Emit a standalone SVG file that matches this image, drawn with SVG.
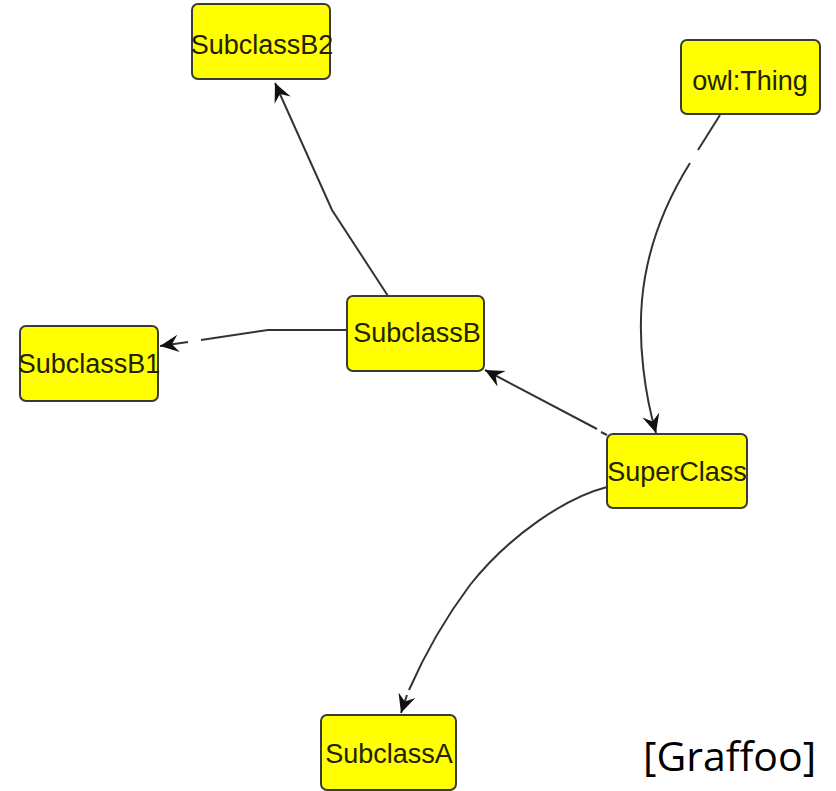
<svg xmlns="http://www.w3.org/2000/svg" width="836" height="791" viewBox="0 0 836 791">
  <style>
    .node rect { fill: #ffff00; stroke: #3a3a3a; stroke-width: 2; }
    .node text { font-family: "Liberation Sans", Arial, sans-serif; font-size: 27px; fill: #222200; text-anchor: middle; }
    .edge { fill: none; stroke: #333333; stroke-width: 2; marker-end: url(#arrow); }
    .caption { font-family: "Open Sans", "Liberation Sans", sans-serif; font-size: 41px; fill: #000000; }
  </style>
  <defs>
    <marker id="arrow" markerUnits="userSpaceOnUse" markerWidth="22" markerHeight="22" viewBox="-18 -9 20 18" refX="0" refY="0" orient="auto">
      <path d="M0,0 L-17,-8 L-11,0 L-17,8 Z" fill="#111111"/>
    </marker>
  </defs>

  <rect x="0" y="0" width="836" height="791" fill="#ffffff"/>

  <g id="connectors">
    <!-- SubclassB to SubclassB2 -->
    <path class="edge" d="M388,296 L332,210 L275,83"/>
    <!-- SubclassB to SubclassB1 -->
    <path class="edge" d="M347,330 L268,330 L201,340 M188,342 L160,346"/>
    <!-- SuperClass to SubclassB -->
    <path class="edge" d="M607,435 L601,432 M597,429 L485,370"/>
    <!-- owl:Thing to SuperClass -->
    <path class="edge" d="M720,115 L698,150 M690,163 C662,208 646,255 642,300 C638,345 645,395 656,433"/>
    <!-- SuperClass to SubclassA -->
    <path class="edge" d="M607,487 C565,498 510,535 470,585 C440,625 420,665 409,690 M407,695 L401,713"/>
  </g>

  <g id="SubclassB2" class="node">
    <rect x="192" y="4" width="138" height="75" rx="6"/>
    <text x="262" y="54">SubclassB2</text>
  </g>
  <g id="owlThing" class="node">
    <rect x="681" y="40" width="139" height="74" rx="6"/>
    <text x="750" y="90">owl:Thing</text>
  </g>
  <g id="SubclassB1" class="node">
    <rect x="20" y="326" width="138" height="75" rx="6"/>
    <text x="89" y="373">SubclassB1</text>
  </g>
  <g id="SubclassB" class="node">
    <rect x="347" y="296" width="137" height="75" rx="6"/>
    <text x="417" y="342">SubclassB</text>
  </g>
  <g id="SuperClass" class="node">
    <rect x="607" y="434" width="140" height="74" rx="6"/>
    <text x="677" y="481">SuperClass</text>
  </g>
  <g id="SubclassA" class="node">
    <rect x="321" y="715" width="135" height="75" rx="6"/>
    <text x="389" y="763">SubclassA</text>
  </g>

  <text class="caption" x="643" y="771">[Graffoo]</text>
</svg>
